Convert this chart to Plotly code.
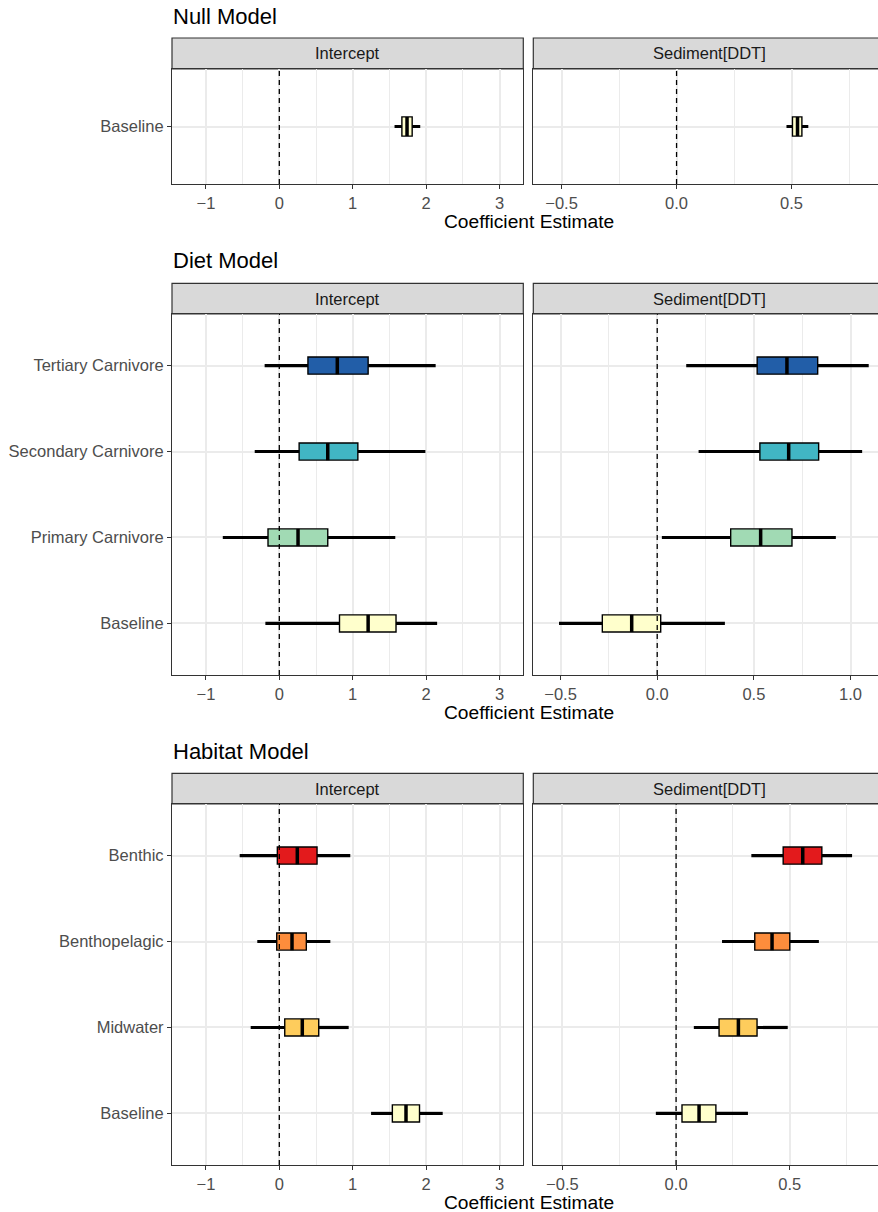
import plotly.graph_objects as go

W, H = 878, 1212

# ---------------- data ----------------
null_cats = ["Baseline"]
null_int_lo = [1.57]
null_int_q1 = [1.67]
null_int_med = [1.74]
null_int_q3 = [1.81]
null_int_hi = [1.92]
null_sed_lo = [0.478]
null_sed_q1 = [0.504]
null_sed_med = [0.526]
null_sed_q3 = [0.545]
null_sed_hi = [0.573]
null_colors = ["#FFFFCC"]

diet_cats = ["Baseline", "Primary Carnivore", "Secondary Carnivore", "Tertiary Carnivore"]
diet_int_lo = [-0.19, -0.77, -0.335, -0.20]
diet_int_q1 = [0.82, -0.154, 0.27, 0.39]
diet_int_med = [1.21, 0.255, 0.66, 0.79]
diet_int_q3 = [1.59, 0.66, 1.07, 1.21]
diet_int_hi = [2.15, 1.58, 1.99, 2.13]
diet_sed_lo = [-0.508, 0.024, 0.214, 0.15]
diet_sed_q1 = [-0.284, 0.38, 0.531, 0.517]
diet_sed_med = [-0.132, 0.535, 0.68, 0.671]
diet_sed_q3 = [0.018, 0.697, 0.835, 0.83]
diet_sed_hi = [0.35, 0.924, 1.06, 1.094]
diet_colors = ["#FFFFCC", "#A1DAB4", "#41B6C4", "#225EA8"]

hab_cats = ["Baseline", "Midwater", "Benthopelagic", "Benthic"]
hab_int_lo = [1.25, -0.39, -0.30, -0.54]
hab_int_q1 = [1.54, 0.074, -0.035, -0.027]
hab_int_med = [1.726, 0.313, 0.173, 0.245]
hab_int_q3 = [1.91, 0.537, 0.368, 0.514]
hab_int_hi = [2.226, 0.945, 0.695, 0.967]
hab_sed_lo = [-0.089, 0.078, 0.202, 0.331]
hab_sed_q1 = [0.026, 0.189, 0.346, 0.471]
hab_sed_med = [0.101, 0.274, 0.422, 0.557]
hab_sed_q3 = [0.175, 0.356, 0.50, 0.641]
hab_sed_hi = [0.316, 0.491, 0.628, 0.774]
hab_colors = ["#FFFFCC", "#FECC5C", "#FD8D3C", "#E31A1C"]

model_titles = ["Null Model", "Diet Model", "Habitat Model"]
facet_labels = ["Intercept", "Sediment[DDT]"]
x_title = "Coefficient Estimate"

# ---------------- layout geometry (pixels) ----------------
FONT = "Liberation Sans, Arial, Helvetica, sans-serif"
left_px = (172, 523.3)
right_px = (533.3, 878)
right_full_center = 709
# (strip_top, panel_top, panel_bottom, title_center, xtitle_center)
rows_px = [
    (38, 69, 184, 16, 222),
    (283.3, 314, 675, 260.7, 712.5),
    (773.3, 804, 1165, 751.3, 1202),
]

def px_x(v):
    return v / W

def px_y(v):
    return 1 - v / H

fig = go.Figure()

panels = [
    # (cats, lo, q1, med, q3, hi, colors, range, tickvals, ticktext, minor_dtick, medsize)
    (null_cats, null_int_lo, null_int_q1, null_int_med, null_int_q3, null_int_hi, null_colors,
     [-1.462, 3.324], [-1, 0, 1, 2, 3], ["−1", "0", "1", "2", "3"], 0.5, 13.7),
    (null_cats, null_sed_lo, null_sed_q1, null_sed_med, null_sed_q3, null_sed_hi, null_colors,
     [-0.623, 0.876], [-0.5, 0, 0.5], ["−0.5", "0.0", "0.5"], 0.25, 13.7),
    (diet_cats, diet_int_lo, diet_int_q1, diet_int_med, diet_int_q3, diet_int_hi, diet_colors,
     [-1.462, 3.324], [-1, 0, 1, 2, 3], ["−1", "0", "1", "2", "3"], 0.5, 12.3),
    (diet_cats, diet_sed_lo, diet_sed_q1, diet_sed_med, diet_sed_q3, diet_sed_hi, diet_colors,
     [-0.641, 1.142], [-0.5, 0, 0.5, 1.0], ["−0.5", "0.0", "0.5", "1.0"], 0.25, 12.3),
    (hab_cats, hab_int_lo, hab_int_q1, hab_int_med, hab_int_q3, hab_int_hi, hab_colors,
     [-1.462, 3.324], [-1, 0, 1, 2, 3], ["−1", "0", "1", "2", "3"], 0.5, 12.3),
    (hab_cats, hab_sed_lo, hab_sed_q1, hab_sed_med, hab_sed_q3, hab_sed_hi, hab_colors,
     [-0.628, 0.888], [-0.5, 0, 0.5], ["−0.5", "0.0", "0.5"], 0.25, 12.3),
]

shapes = []
annotations = []
layout_axes = {}
GRID = "#EBEBEB"
BORDER = "#333333"

for i, (cats, lo, q1, med, q3, hi, cols, xr, tv, tt, mdt, msize) in enumerate(panels):
    n = i + 1
    xa = "x" if n == 1 else f"x{n}"
    ya = "y" if n == 1 else f"y{n}"
    xkey = "xaxis" if n == 1 else f"xaxis{n}"
    ykey = "yaxis" if n == 1 else f"yaxis{n}"
    row = i // 2
    is_left = (i % 2 == 0)
    st, pt, pb, tc, xtc = rows_px[row]
    xd = left_px if is_left else right_px

    # whiskers (outside the box)
    wx, wy = [], []
    for c, a, b, d, e in zip(cats, lo, q1, q3, hi):
        wx += [a, b, None, d, e, None]
        wy += [c, c, None, c, c, None]
    fig.add_trace(go.Scatter(x=wx, y=wy, mode="lines", line=dict(color="black", width=3.2),
                             xaxis=xa, yaxis=ya, showlegend=False, hoverinfo="skip"))
    # boxes
    fig.add_trace(go.Bar(orientation="h", y=cats, x=[b - a for a, b in zip(q1, q3)], base=q1,
                         width=0.2, marker=dict(color=cols, line=dict(color="black", width=1.4)),
                         xaxis=xa, yaxis=ya, showlegend=False))
    # medians
    fig.add_trace(go.Scatter(x=med, y=cats, mode="markers",
                             marker=dict(symbol="line-ns", size=msize,
                                         line=dict(color="black", width=3.5)),
                             xaxis=xa, yaxis=ya, showlegend=False))

    layout_axes[xkey] = dict(
        domain=[px_x(xd[0]), px_x(xd[1])], anchor=ya, range=xr,
        tickmode="array", tickvals=tv, ticktext=tt,
        showgrid=True, gridcolor=GRID, gridwidth=1.5, zeroline=False,
        minor=dict(dtick=mdt, tick0=0, showgrid=True, gridcolor=GRID, gridwidth=0.8),
        ticks="outside", ticklen=4, tickwidth=1.1, tickcolor=BORDER,
        tickfont=dict(family=FONT, size=16.5, color="#4D4D4D"),
        showline=True, linecolor=BORDER, linewidth=1.2, mirror=True,
    )
    layout_axes[ykey] = dict(
        domain=[px_y(pb), px_y(pt)], anchor=xa,
        type="category", categoryorder="array", categoryarray=cats,
        range=[-0.6, len(cats) - 0.4],
        showgrid=True, gridcolor=GRID, gridwidth=1.5, zeroline=False,
        showline=True, linecolor=BORDER, linewidth=1.2, mirror=is_left,
        ticks="outside" if is_left else "", ticklen=4, tickwidth=1.1, tickcolor=BORDER,
        showticklabels=is_left,
        tickfont=dict(family=FONT, size=16.5, color="#4D4D4D"),
    )

    # dashed zero line
    shapes.append(dict(type="line", xref=xa, yref=f"{ya} domain", x0=0, x1=0, y0=0, y1=1,
                       line=dict(color="black", width=1.3, dash="5px,4px"), layer="above"))

    # strip
    sx1 = px_x(xd[1]) if is_left else 1.02
    shapes.append(dict(type="rect", xref="paper", yref="paper",
                       x0=px_x(xd[0]), x1=sx1, y0=px_y(pt), y1=px_y(st),
                       fillcolor="#D9D9D9", line=dict(color=BORDER, width=1.2), layer="below"))
    scx = (xd[0] + xd[1]) / 2 if is_left else right_full_center
    annotations.append(dict(text=facet_labels[i % 2], xref="paper", yref="paper",
                            x=px_x(scx), y=px_y((st + pt) / 2), xanchor="center", yanchor="middle",
                            showarrow=False, font=dict(family=FONT, size=16.5, color="#1A1A1A")))

    if is_left:
        annotations.append(dict(text=model_titles[row], xref="paper", yref="paper",
                                x=px_x(171), y=px_y(tc), xanchor="left", yanchor="middle",
                                showarrow=False, font=dict(family=FONT, size=22, color="black")))
        annotations.append(dict(text=x_title, xref="paper", yref="paper",
                                x=px_x(528.5), y=px_y(xtc), xanchor="center", yanchor="middle",
                                showarrow=False, font=dict(family=FONT, size=19.2, color="black")))

fig.update_layout(
    width=W, height=H, autosize=False,
    margin=dict(l=0, r=0, t=0, b=0),
    paper_bgcolor="white", plot_bgcolor="white",
    showlegend=False, barmode="overlay",
    shapes=shapes, annotations=annotations,
    font=dict(family=FONT),
    **layout_axes,
)

fig.write_html("out.html")
